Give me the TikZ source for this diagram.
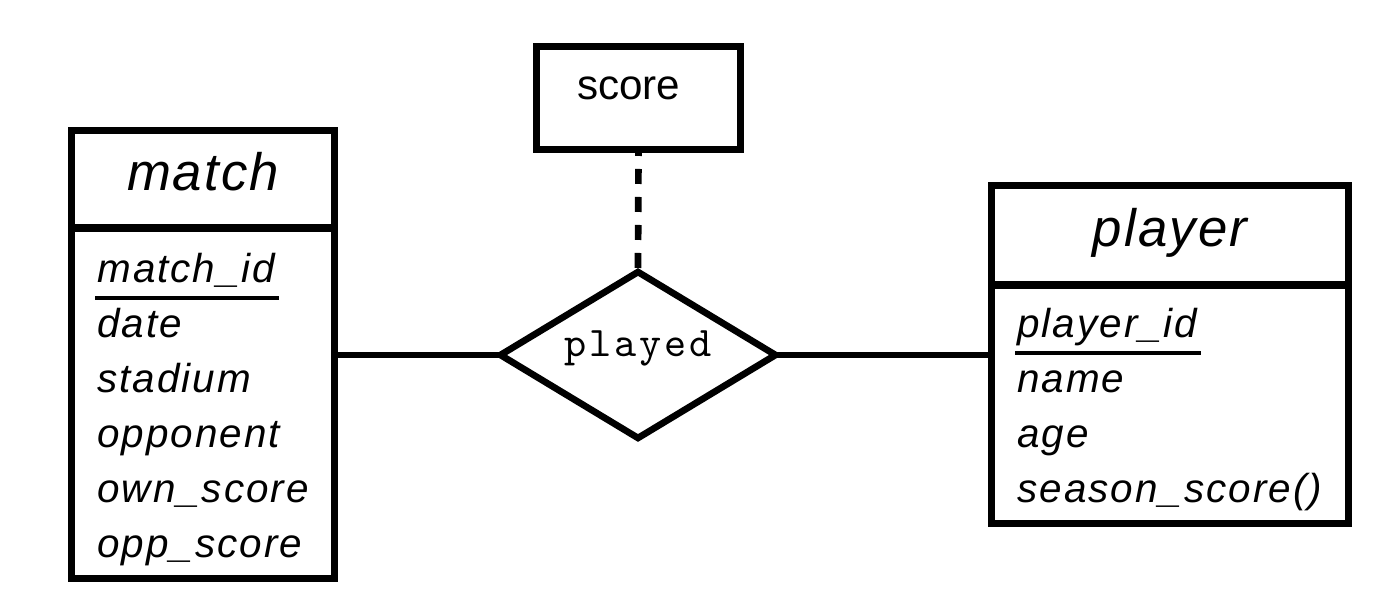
\documentclass[tikz,border=0pt]{standalone}
\usepackage{fontspec}
\setmainfont{Liberation Sans}
\newfontfamily\headfont[LetterSpace=4.0]{Liberation Sans}
\newfontfamily\attrfont[LetterSpace=5.0]{Liberation Sans}
\newfontfamily\relfont[LetterSpace=7.0]{lmmono10-regular.otf}
\usetikzlibrary{shapes.geometric}

\tikzset{
  erbox/.style={draw,line width=4pt,inner sep=0pt,outer sep=0pt,anchor=north west},
  headbox/.style={erbox,font=\headfont\itshape\fontsize{30}{36}\selectfont,text height=0.75cm,text depth=0.3cm},
  attr/.style={anchor=base west,inner sep=0pt,font=\attrfont\itshape\fontsize{23}{28}\selectfont},
  keyline/.style={line width=2.2pt},
  link/.style={line width=3.8pt}
}

\begin{document}
\begin{tikzpicture}
\useasboundingbox (0,0) rectangle (27.82,12.04);

%match
\node[headbox,minimum width=5.26cm,minimum height=1.95cm] (matchhead) at (1.43,9.43) {match};
\node[erbox,minimum width=5.26cm,minimum height=7.01cm] (match) at (matchhead.south west) {};
\node[attr] (mid) at (1.94,6.38) {match\_id};
\draw[keyline] ([xshift=-1pt,yshift=-0.3cm]mid.base west) -- ([xshift=2pt,yshift=-0.3cm]mid.base east);
\foreach \a [count=\i] in {date,stadium,opponent,own\_score,opp\_score}{
\node[attr] (m\i) at (1.94,6.38-1.1*\i) {\a};
}

%player
\node[headbox,minimum width=7.14cm,minimum height=1.99cm] (playerhead) at (19.83,8.33) {player};
\node[erbox,minimum width=7.14cm,minimum height=4.77cm] (player) at (playerhead.south west) {};
\node[attr] (pid) at (20.34,5.28) {player\_id};
\draw[keyline] ([xshift=-1pt,yshift=-0.3cm]pid.base west) -- ([xshift=2pt,yshift=-0.3cm]pid.base east);
\foreach \a [count=\i] in {name,age,season\_score()}{
\node[attr] (p\i) at (20.34,5.28-1.1*\i) {\a};
}

%score
\node[erbox,minimum width=4.08cm,minimum height=2.06cm,inner xsep=0.81cm,text width=2.46cm,align=left,font=\fontsize{24}{29}\selectfont,text height=1.07cm,text depth=0.99cm] (score) at (10.73,11.11) {score};

%played
\node[diamond,draw,line width=3.8pt,minimum width=5.5cm,minimum height=3.32cm,aspect=1.7,inner sep=0pt,outer sep=0pt,text height=0.52cm,text depth=0.44cm,font=\relfont\fontsize{24}{29}\selectfont] (played) at (12.76,4.94) {played};

%Verbindungen
\draw[link] (match.east |- played.west) -- (played.west);
\draw[link] (played.east) -- (player.west |- played.east);
\draw[link,dash pattern=on 0.3cm off 0.26cm,dash phase=0.17cm] (score.south) -- (played.north);

\end{tikzpicture}
\end{document}
